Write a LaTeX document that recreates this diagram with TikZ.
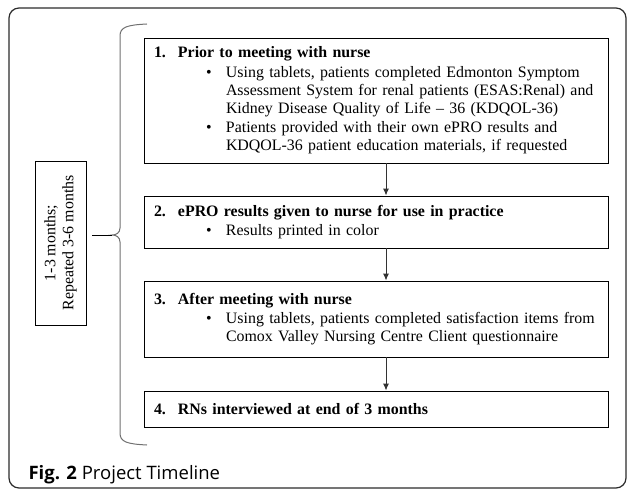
\documentclass[tikz,border=0pt]{standalone}
\usepackage{fontspec}
\setmainfont{Liberation Serif}
\newfontfamily\capfont{Open Sans}
\usepackage{xcolor}
\definecolor{tlFrame}{HTML}{2B2B2B}
\definecolor{tlBrace}{HTML}{707070}
\definecolor{tlArrow}{HTML}{333333}
\usetikzlibrary{arrows.meta, positioning, calc}

\newcommand{\stephead}[2]{\hspace*{6pt}\makebox[24pt][l]{\textbf{#1}}\textbf{#2}}
\newcommand{\stepbullet}{\hspace*{58pt}\makebox[20pt][l]{\textbullet}}
\newcommand{\stepindent}{\hspace*{78pt}}

\begin{document}
\begin{tikzpicture}[
  x=1pt, y=-1pt,
  every node/.style={font=\fontsize{15.9}{18}\selectfont},
  stepbox/.style={rectangle, draw=black, line width=0.9pt, text width=456pt,
                  inner xsep=4pt, inner ysep=2pt, align=left},
  periodbox/.style={rectangle, draw=black, line width=0.8pt, align=center,
                    minimum width=164pt, minimum height=51pt, inner sep=2pt},
  flow/.style={draw=tlArrow, line width=1pt, -{Latex[length=7pt, width=6pt]}}
]
\useasboundingbox (0,0) rectangle (627,492);
\draw[draw=tlFrame, line width=1.2pt, rounded corners=10pt]
  (9,8) rectangle (626,488);

\node[stepbox, minimum height=125pt] (s1) at (376,100.5) {%
  \stephead{1.}{Prior to meeting with nurse}\\[2pt]
  \stepbullet Using tablets, patients completed Edmonton Symptom\\
  \stepindent Assessment System for renal patients (ESAS:Renal) and\\
  \stepindent Kidney Disease Quality of Life -- 36 (KDQOL-36)\\[1pt]
  \stepbullet Patients provided with their own ePRO results and\\
  \stepindent KDQOL-36 patient education materials, if requested};

\node[stepbox, minimum height=52pt] (s2) at (376,222) {%
  \stephead{2.}{ePRO results given to nurse for use in practice}\\[1pt]
  \stepbullet Results printed in color};

\node[stepbox, minimum height=76pt] (s3) at (376,319) {%
  \stephead{3.}{After meeting with nurse}\\[1pt]
  \stepbullet Using tablets, patients completed satisfaction items from\\
  \stepindent Comox Valley Nursing Centre Client questionnaire};

\node[stepbox, minimum height=36pt] (s4) at (376,409) {%
  \stephead{4.}{RNs interviewed at end of 3 months}};

\coordinate (arrowx) at (386,0);
\draw[flow] (s1.south -| arrowx) -- (s2.north -| arrowx);
\draw[flow] (s2.south -| arrowx) -- (s3.north -| arrowx);
\draw[flow] (s3.south -| arrowx) -- (s4.north -| arrowx);

\node[periodbox, rotate=90] (period) at (60.5,243)
  {1-3 months;\\ Repeated 3-6 months};

% brace round the four steps
\draw[draw=tlBrace, line width=1pt]
  (147,24) .. controls (127,25) and (120,27) .. (120,36) -- (120,228)
  .. controls (120,233) and (116,235) .. (112,235)
  .. controls (116,235) and (120,237) .. (120,242) -- (120,433)
  .. controls (120,442) and (127,444) .. (147,445);
\draw[draw=black, line width=1pt] (92,235) -- (112,235);

\node[anchor=base west, font=\capfont\fontsize{18.5}{20}\selectfont] (caption)
  at (25,479) {\textbf{Fig. 2} Project Timeline};
\end{tikzpicture}
\end{document}
